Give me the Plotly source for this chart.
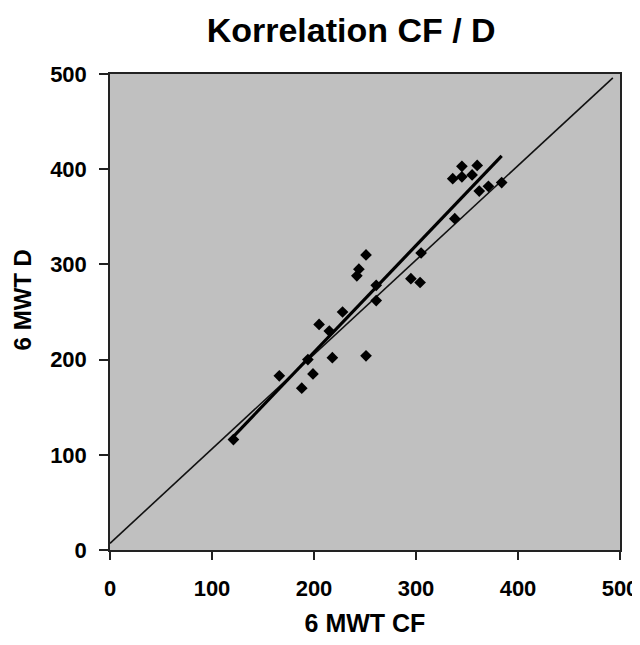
import plotly.graph_objects as go

# Data
cf_values = [121, 166, 188, 194, 199, 218, 205, 215, 228, 251, 242, 244, 251, 261, 261,
             295, 304, 305, 338, 336, 345, 345, 355, 360, 362, 371, 384]
d_values = [116, 183, 170, 200, 185, 202, 237, 230, 250, 204, 288, 295, 310, 278, 262,
            285, 281, 312, 348, 390, 403, 392, 394, 404, 377, 382, 386]

# Regression line (thick) and reference line (thin), end points
fit_x = [120, 384]
fit_y = [118, 414]
ref_x = [0, 493]
ref_y = [7, 496]

tick_vals = [0, 100, 200, 300, 400, 500]
tick_text = ["0", "100", "200", "300", "400", "500"]

FONT = "Liberation Sans, Arial, sans-serif"

fig = go.Figure()
fig.add_trace(go.Scatter(x=ref_x, y=ref_y, mode="lines",
                         line=dict(color="#111111", width=1.6), hoverinfo="skip"))
fig.add_trace(go.Scatter(x=fit_x, y=fit_y, mode="lines",
                         line=dict(color="#000000", width=3.2), hoverinfo="skip"))
fig.add_trace(go.Scatter(x=cf_values, y=d_values, mode="markers",
                         marker=dict(symbol="diamond", size=9, color="#000000",
                                     line=dict(width=0))))

# page has an 8px body margin, so the figure is placed at (8, 8)
fig.update_layout(
    width=632, height=629,
    margin=dict(l=102, r=20, t=66, b=87, autoexpand=False),
    paper_bgcolor="white",
    plot_bgcolor="#c0c0c0",
    showlegend=False,
    title=dict(text="<b>Korrelation CF / D</b>", x=0.543, xanchor="center",
               y=1 - 22 / 629, yanchor="middle",
               font=dict(family=FONT, size=34, color="#000000")),
    font=dict(family=FONT, color="#000000"),
    annotations=[dict(text="<b>6 MWT D</b>", xref="paper", yref="paper",
                      x=-0.172, y=0.525, xanchor="center", yanchor="middle",
                      textangle=-90, showarrow=False,
                      font=dict(family=FONT, size=24, color="#000000"))],
)
fig.update_xaxes(
    range=[0, 500], tickvals=tick_vals, ticktext=["<b>%s</b>" % t for t in tick_text],
    showgrid=False, zeroline=False, automargin=False,
    showline=True, linecolor="#222222", linewidth=1.5, mirror=True,
    ticks="outside", ticklen=8, tickwidth=1.5, tickcolor="#222222",
    tickfont=dict(family=FONT, size=22, color="#000000"),
    ticklabelstandoff=10,
    title=dict(text="<b>6 MWT CF</b>", font=dict(family=FONT, size=25, color="#000000"),
               standoff=18),
)
fig.update_yaxes(
    range=[0, 500], tickvals=tick_vals, ticktext=["<b>%s</b>" % t for t in tick_text],
    showgrid=False, zeroline=False, automargin=False,
    showline=True, linecolor="#222222", linewidth=1.5, mirror=True,
    ticks="outside", ticklen=9, tickwidth=1.5, tickcolor="#222222",
    tickfont=dict(family=FONT, size=22, color="#000000"),
    ticklabelstandoff=8,
)

fig.write_html("out.html")
